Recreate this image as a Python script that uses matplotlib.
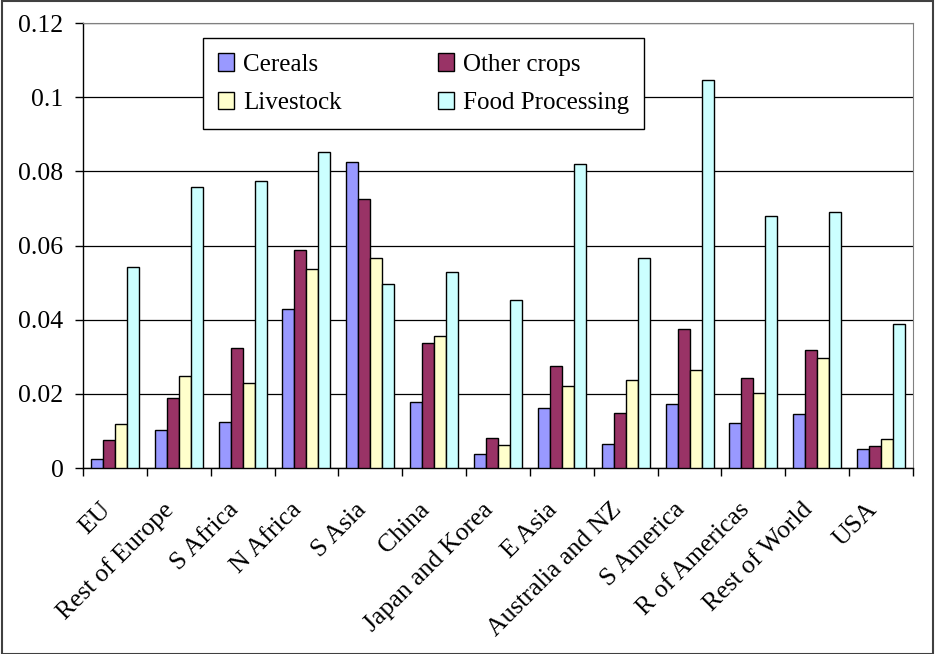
import numpy as np
import matplotlib.pyplot as plt
from matplotlib.patches import Rectangle, Patch

regions = ["EU", "Rest of Europe", "S Africa", "N Africa", "S Asia", "China",
           "Japan and Korea", "E Asia", "Australia and NZ", "S America",
           "R of Americas", "Rest of World", "USA"]

cereals = [0.0023, 0.0102, 0.0125, 0.0428, 0.0824, 0.0178, 0.0038,
           0.0163, 0.0065, 0.0172, 0.0121, 0.0146, 0.0051]
other_crops = [0.0075, 0.0189, 0.0323, 0.0589, 0.0726, 0.0337, 0.0081,
               0.0276, 0.0148, 0.0374, 0.0243, 0.0317, 0.0058]
livestock = [0.0118, 0.0249, 0.0229, 0.0538, 0.0566, 0.0357, 0.0061,
             0.0222, 0.0237, 0.0264, 0.0202, 0.0296, 0.0077]
food_processing = [0.0543, 0.0757, 0.0774, 0.0851, 0.0495, 0.0528, 0.0454,
                   0.0821, 0.0566, 0.1047, 0.0679, 0.0690, 0.0388]

series = [("Cereals", cereals, "#9999FF"),
          ("Other crops", other_crops, "#993366"),
          ("Livestock", livestock, "#FFFFCC"),
          ("Food Processing", food_processing, "#CCFFFF")]

plt.rcParams['font.family'] = ['Liberation Serif', 'DejaVu Serif']
plt.rcParams['font.size'] = 18.5

fig = plt.figure(figsize=(9.35, 6.54), dpi=100)
ax = fig.add_axes([0.0888, 0.2844, 0.8877, 0.6804])

x = np.arange(len(regions))
w = 0.188
for i, (name, vals, col) in enumerate(series):
    ax.bar(x + (i - 1.5) * w, vals, w, color=col, edgecolor="black",
           linewidth=1.0, label=name, zorder=3)

ax.set_xlim(-0.5, len(regions) - 0.5)
ax.set_ylim(0, 0.12)
ax.set_yticks(np.arange(0, 0.121, 0.02))
ax.set_yticklabels(["0", "0.02", "0.04", "0.06", "0.08", "0.1", "0.12"])
ax.yaxis.grid(True, color="black", linewidth=0.9, zorder=0)
ax.set_axisbelow(True)

# tick marks on category boundaries, labels on the centres
ax.set_xticks(np.arange(-0.5, len(regions), 1.0))
ax.set_xticklabels([])
ax.set_xticks(x, minor=True)
ax.set_xticklabels(regions, minor=True, rotation=45, ha="right", va="top")
ax.tick_params(axis="x", which="minor", length=0, pad=22)
ax.tick_params(axis="x", which="major", direction="out", length=6, width=1)
ax.tick_params(axis="y", direction="out", length=6, width=1, pad=8)

for s in ["left", "bottom"]:
    ax.spines[s].set_color("black")
    ax.spines[s].set_linewidth(1.0)
ax.spines["top"].set_color("#808080")
ax.spines["right"].set_color("#808080")

handles = [Patch(facecolor=c, edgecolor="black", label=n) for n, _, c in series]
order = [0, 2, 1, 3]
leg = ax.legend([handles[i] for i in order], [series[i][0] for i in order],
                ncol=2, loc="upper left", bbox_to_anchor=(0.1446, 0.966),
                fontsize=18, frameon=True, fancybox=False, edgecolor="black",
                framealpha=1, borderpad=0.6, labelspacing=0.65,
                columnspacing=3.85, handlelength=0.65, handleheight=0.7,
                handletextpad=0.35, borderaxespad=0)
leg.get_frame().set_linewidth(1.0)
leg.set_zorder(5)

fig.patches.append(Rectangle((0.002, 0.0), 0.996, 0.999, transform=fig.transFigure,
                             fill=False, edgecolor="#404040", linewidth=1.5))

fig.savefig("out.png", dpi=100)
